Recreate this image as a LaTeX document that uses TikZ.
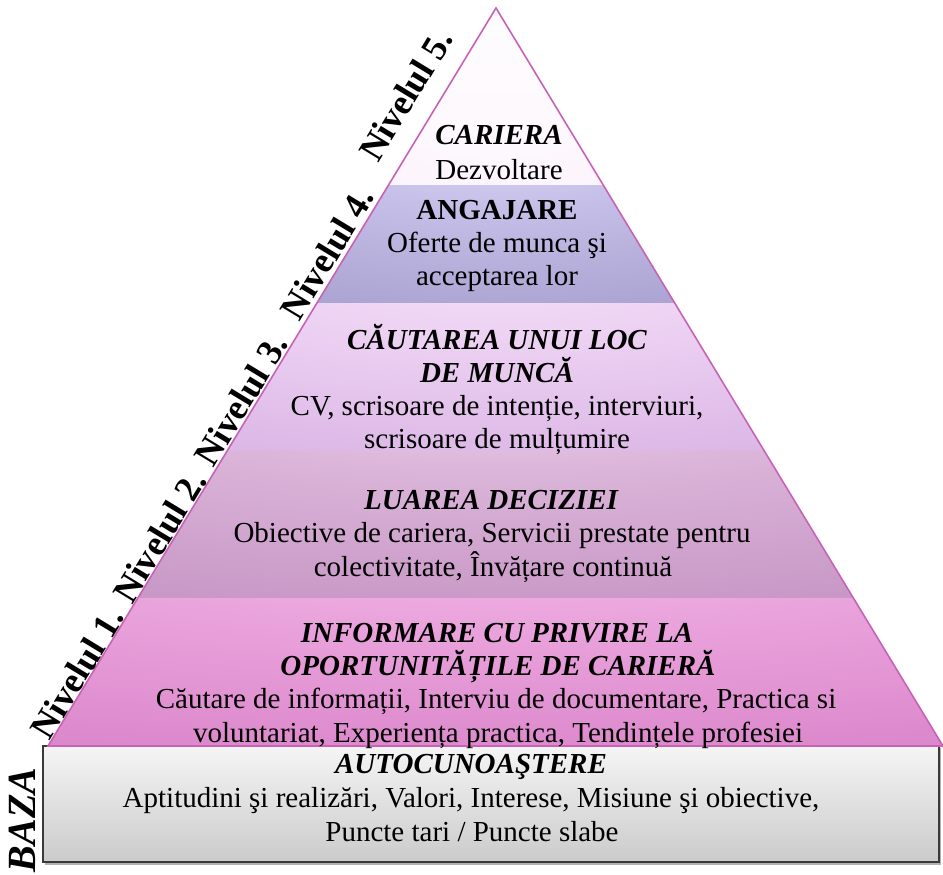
\documentclass[tikz,border=0pt]{standalone}
\usepackage{fontspec}
\setmainfont{Liberation Serif}
\usetikzlibrary{calc}

\definecolor{edgec}{HTML}{C862B6}
\definecolor{baseTop}{HTML}{F5F5F5}
\definecolor{baseBot}{HTML}{CBCBCB}
\definecolor{baseEdge}{HTML}{3A3A3A}

\definecolor{aA}{HTML}{FFFFFF}
\definecolor{aB}{HTML}{FDF8FD}
\definecolor{aC}{HTML}{F8EAF8}
\definecolor{aD}{HTML}{F2DFF2}

\definecolor{bA}{HTML}{DEDAF9}
\definecolor{bB}{HTML}{C2BCE6}
\definecolor{bC}{HTML}{ACA4D2}
\definecolor{bD}{HTML}{A098C8}

\definecolor{cA}{HTML}{F9E6FD}
\definecolor{cB}{HTML}{ECD0F2}
\definecolor{cC}{HTML}{DCB8E6}
\definecolor{cD}{HTML}{D2A6DC}

\definecolor{dA}{HTML}{ECD0EC}
\definecolor{dB}{HTML}{D8B0D6}
\definecolor{dC}{HTML}{C898C6}
\definecolor{dD}{HTML}{B884B4}

\definecolor{eA}{HTML}{F4BAE8}
\definecolor{eB}{HTML}{E8A0DA}
\definecolor{eC}{HTML}{DC88CC}
\definecolor{eD}{HTML}{C858B4}

\pgfdeclareradialshading{shA}{\pgfpoint{0bp}{50bp}}{color(0bp)=(aA); color(50bp)=(aB); color(90bp)=(aC); color(120bp)=(aD); color(160bp)=(aD)}
\pgfdeclareradialshading{shB}{\pgfpoint{0bp}{50bp}}{color(0bp)=(bA); color(30bp)=(bB); color(60bp)=(bC); color(95bp)=(bD); color(160bp)=(bD)}
\pgfdeclareradialshading{shC}{\pgfpoint{0bp}{50bp}}{color(0bp)=(cA); color(30bp)=(cB); color(60bp)=(cC); color(95bp)=(cD); color(160bp)=(cD)}
\pgfdeclareradialshading{shD}{\pgfpoint{0bp}{50bp}}{color(0bp)=(dA); color(30bp)=(dB); color(60bp)=(dC); color(95bp)=(dD); color(160bp)=(dD)}
\pgfdeclareradialshading{shE}{\pgfpoint{0bp}{50bp}}{color(0bp)=(eA); color(30bp)=(eB); color(60bp)=(eC); color(95bp)=(eD); color(160bp)=(eD)}

\begin{document}
\begin{tikzpicture}[x=1pt,y=-1pt,
  body/.style={font=\fontsize{29}{34}\selectfont, anchor=base, inner sep=0pt},
  headbi/.style={body, font=\fontsize{29}{34}\selectfont\bfseries\itshape},
  headb/.style={body, font=\fontsize{29}{34}\selectfont\bfseries},
  levellabel/.style={font=\fontsize{36}{38}\selectfont\bfseries, rotate=58.74, inner sep=0pt},
  bandedge/.style={draw=edgec, line width=1.6pt, line join=miter}]
\useasboundingbox (0,0) rectangle (943,875);

\coordinate (A) at (496,8);
\coordinate (L) at (48,746);
\coordinate (R) at (943,746);

% base block
\fill[gray!60] (45,748) rectangle (941,864.5);
\shadedraw[top color=baseTop, bottom color=baseBot, draw=baseEdge, line width=1.4pt] (43,746) rectangle (939,862);

% band corners
\coordinate (l1) at ($(A)!0.23984!(L)$);
\coordinate (r1) at ($(A)!0.23984!(R)$);
\coordinate (l2) at ($(A)!0.39973!(L)$);
\coordinate (r2) at ($(A)!0.39973!(R)$);
\coordinate (l3) at ($(A)!0.59892!(L)$);
\coordinate (r3) at ($(A)!0.59892!(R)$);
\coordinate (l4) at ($(A)!0.79946!(L)$);
\coordinate (r4) at ($(A)!0.79946!(R)$);

\shade[shading=shA] (A) -- (r1) -- (l1) -- cycle;
\shade[shading=shB] (l1) -- (r1) -- (r2) -- (l2) -- cycle;
\shade[shading=shC] (l2) -- (r2) -- (r3) -- (l3) -- cycle;
\shade[shading=shD] (l3) -- (r3) -- (r4) -- (l4) -- cycle;
\shade[shading=shE] (l4) -- (r4) -- (R) -- (L) -- cycle;
\draw[bandedge] (A) -- (L) -- (R) -- cycle;

% texts
\node[headbi] (t1a) at (499,144) {CARIERA};
\node[body] (t1b) at (499,179) {Dezvoltare};
\node[headb] (t2a) at (497,219) {ANGAJARE};
\node[body] (t2b) at (497,252) {Oferte de munca şi};
\node[body] (t2c) at (497,285) {acceptarea lor};
\node[headbi] (t3a) at (497,349) {CĂUTAREA UNUI LOC};
\node[headbi] (t3b) at (497,382) {DE MUNCĂ};
\node[body] (t3c) at (497,415) {CV, scrisoare de intenție, interviuri,};
\node[body] (t3d) at (497,448) {scrisoare de mulțumire};
\node[headbi] (t4a) at (491,509) {LUAREA DECIZIEI};
\node[body] (t4b) at (492,542) {Obiective de cariera, Servicii prestate pentru};
\node[body] (t4c) at (493,576) {colectivitate, Învățare continuă};
\node[headbi] (t5a) at (497,642) {INFORMARE CU PRIVIRE LA};
\node[headbi] (t5b) at (498,675) {OPORTUNITĂȚILE DE CARIERĂ};
\node[body] (t5c) at (496,708) {Căutare de informații, Interviu de documentare, Practica si};
\node[body] (t5d) at (498,742) {voluntariat, Experiența practica, Tendințele profesiei};
\node[headbi] (t6a) at (471,773) {AUTOCUNOAŞTERE};
\node[body] (t6b) at (471,807) {Aptitudini şi realizări, Valori, Interese, Misiune şi obiective,};
\node[body] (t6c) at (472,841) {Puncte tari / Puncte slabe};

% level labels
\node[levellabel] (n1) at (77.1,673) {Nivelul 1.};
\node[levellabel] (n2) at (159.5,536.4) {Nivelul 2.};
\node[levellabel] (n3) at (241,399.8) {Nivelul 3.};
\node[levellabel] (n4) at (327.3,253.3) {Nivelul 4.};
\node[levellabel] (n5) at (405.7,95) {Nivelul 5.};
\node[font=\fontsize{40}{40}\selectfont\bfseries\itshape, rotate=90, inner sep=0pt] (baza) at (22,820) {BAZA};
\end{tikzpicture}
\end{document}
